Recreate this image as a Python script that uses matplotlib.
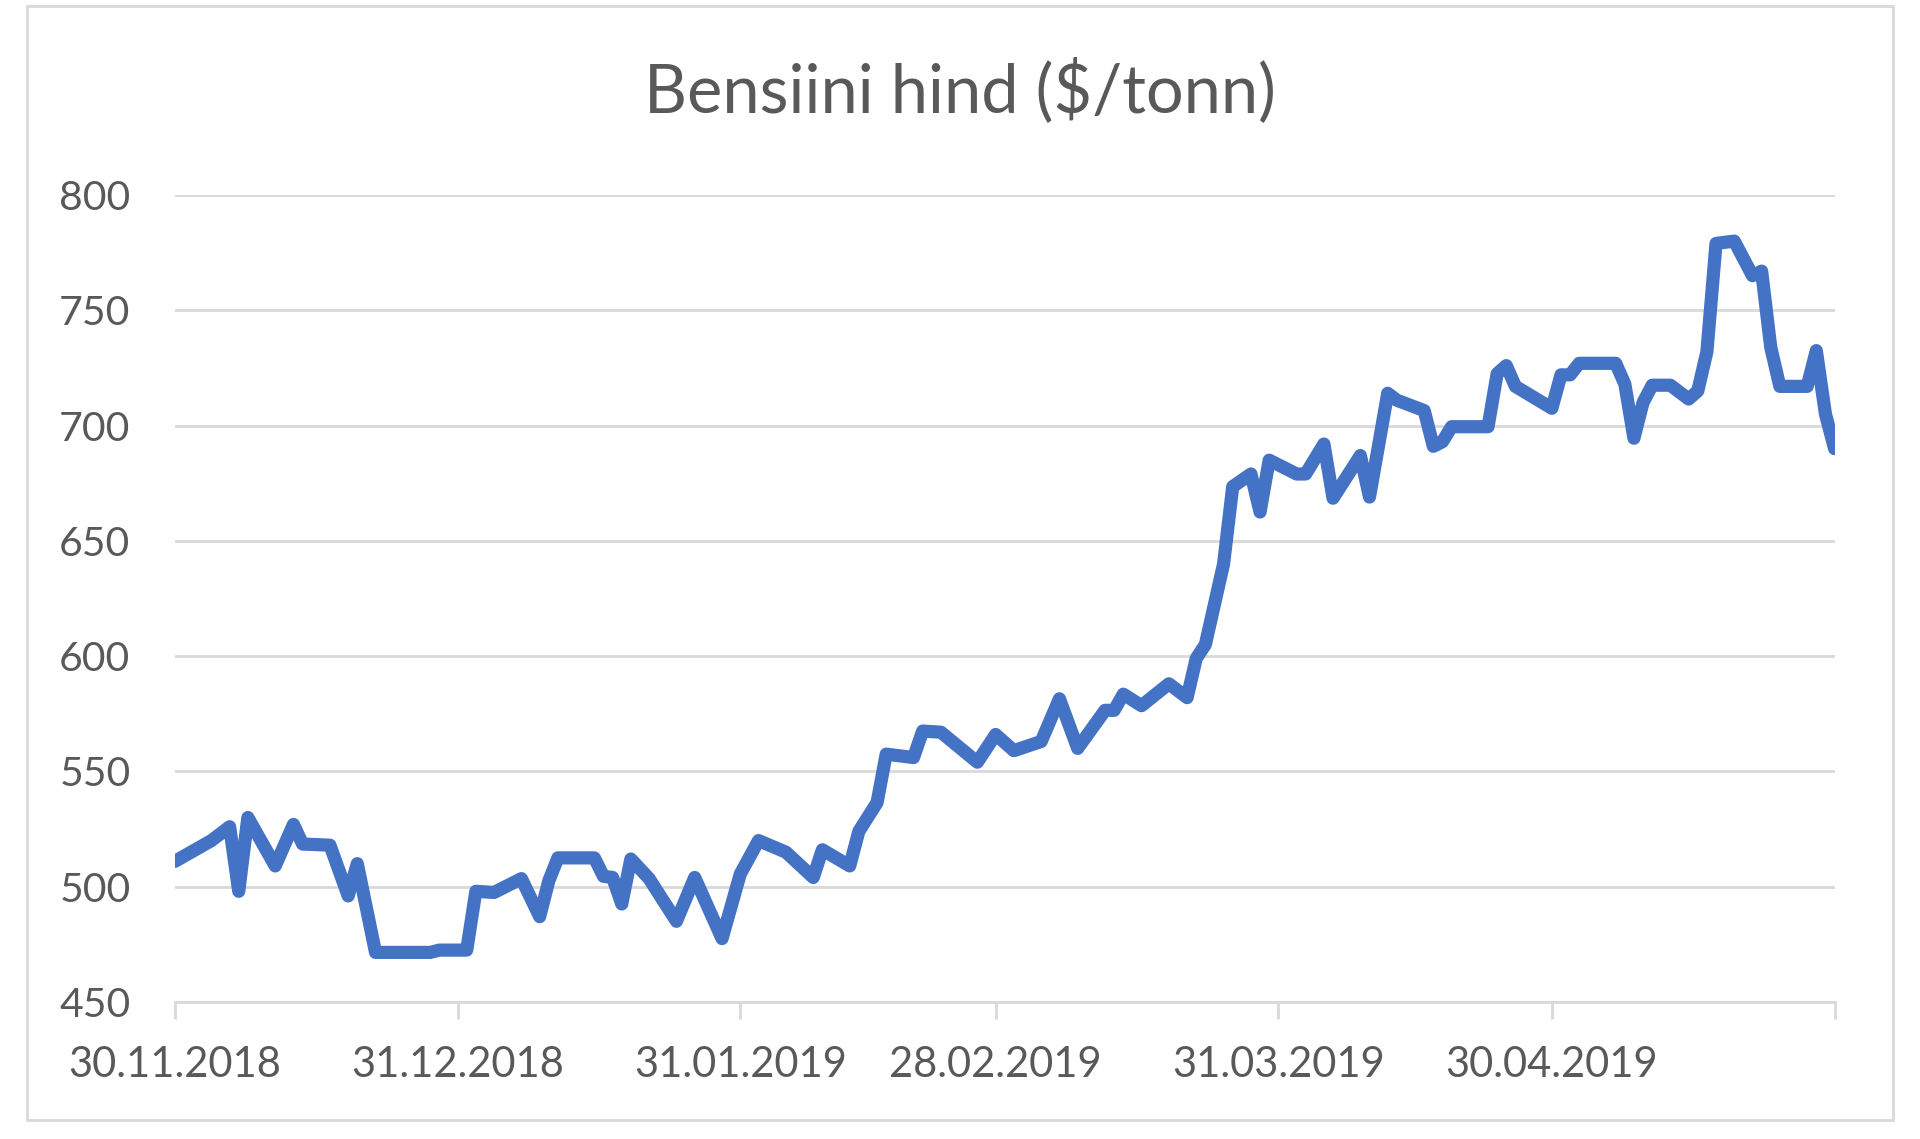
import matplotlib.pyplot as plt
from matplotlib.patches import Rectangle
import pandas as pd

plt.rcParams["font.family"] = ["Lato", "DejaVu Sans"]

# Gasoline price, $/tonne
dates = [
    "2018-11-30", "2018-12-04", "2018-12-06", "2018-12-07", "2018-12-08",
    "2018-12-11", "2018-12-13", "2018-12-14", "2018-12-17", "2018-12-19",
    "2018-12-20", "2018-12-22", "2018-12-28", "2018-12-29", "2019-01-01",
    "2019-01-02", "2019-01-04", "2019-01-07", "2019-01-09", "2019-01-10",
    "2019-01-11", "2019-01-15", "2019-01-16", "2019-01-17", "2019-01-18",
    "2019-01-19", "2019-01-21", "2019-01-24", "2019-01-26", "2019-01-29",
    "2019-01-31", "2019-02-02", "2019-02-05", "2019-02-08", "2019-02-09",
    "2019-02-12", "2019-02-13", "2019-02-15", "2019-02-16", "2019-02-19",
    "2019-02-20", "2019-02-22", "2019-02-26", "2019-02-28", "2019-03-02",
    "2019-03-05", "2019-03-07", "2019-03-09", "2019-03-12", "2019-03-13",
    "2019-03-14", "2019-03-16", "2019-03-19", "2019-03-21", "2019-03-22",
    "2019-03-23", "2019-03-25", "2019-03-26", "2019-03-28", "2019-03-29",
    "2019-03-30", "2019-04-02", "2019-04-03", "2019-04-05", "2019-04-06",
    "2019-04-09", "2019-04-10", "2019-04-12", "2019-04-13", "2019-04-16",
    "2019-04-17", "2019-04-18", "2019-04-19", "2019-04-23", "2019-04-24",
    "2019-04-25", "2019-04-26", "2019-04-30", "2019-05-01", "2019-05-02",
    "2019-05-03", "2019-05-07", "2019-05-08", "2019-05-09", "2019-05-10",
    "2019-05-11", "2019-05-13", "2019-05-15", "2019-05-16", "2019-05-17",
    "2019-05-18", "2019-05-20", "2019-05-22", "2019-05-23", "2019-05-24",
    "2019-05-25", "2019-05-28", "2019-05-29", "2019-05-30", "2019-05-31",
]
prices = [
    511, 520, 526, 498, 530,
    509, 527, 518.5, 518, 496,
    510, 471.5, 471.5, 472.5, 472.5,
    498, 497.5, 503.5, 487, 502.5,
    512.5, 512.5, 504.5, 504, 492.5,
    512, 503.5, 485, 504, 477.5,
    505.5, 520, 515, 504, 516,
    509, 524, 536.5, 557.5, 556,
    567.5, 567, 554, 566, 559,
    563, 581.5, 560, 576.5, 576.5,
    583.5, 578.5, 588, 582, 599,
    605, 640, 673.5, 679, 662.5,
    685, 679, 679, 692, 668.5,
    687, 669, 714, 711, 706.5,
    691, 693, 699.5, 699.5, 722.5,
    726, 717, 707.5, 722, 722,
    727, 727, 718, 694.5, 710,
    717.5, 717.5, 711.5, 715, 732,
    779, 780, 765, 767, 734,
    717, 717, 732.5, 705, 690,
]

tick_dates = ["2018-11-30", "2018-12-31", "2019-01-31", "2019-02-28",
              "2019-03-31", "2019-04-30", "2019-05-31"]
tick_labels = ["30.11.2018", "31.12.2018", "31.01.2019", "28.02.2019",
               "31.03.2019", "30.04.2019", ""]
y_ticks = [450, 500, 550, 600, 650, 700, 750, 800]

x = pd.to_datetime(dates)
xt = pd.to_datetime(tick_dates)

fig = plt.figure(figsize=(19.2, 11.39), dpi=100)
ax = fig.add_axes([0.0911, 0.1203, 0.8644, 0.7085])

ax.plot(x, prices, color="#4472C4", linewidth=9.5,
        solid_capstyle="round", solid_joinstyle="round", zorder=3)

ax.set_xlim(xt[0], xt[-1])
ax.set_ylim(450, 800)
ax.set_yticks(y_ticks)
ax.set_xticks(xt)
ax.set_xticklabels(tick_labels)

ax.grid(axis="y", color="#d9d9d9", linewidth=2)
ax.set_axisbelow(True)
for side in ["top", "right", "left"]:
    ax.spines[side].set_visible(False)
ax.spines["bottom"].set_color("#d9d9d9")
ax.spines["bottom"].set_linewidth(2)

ax.tick_params(axis="y", length=0, pad=32, labelsize=29.5, labelcolor="#595959")
ax.tick_params(axis="x", length=12, width=2, color="#d9d9d9", pad=20,
               labelsize=30, labelcolor="#595959")

fig.text(0.5, 1 - 112 / 1139, "Bensiini hind ($/tonn)", ha="center",
         va="baseline", fontsize=48, color="#595959")

# chart border
fig.patches.append(Rectangle((27 / 1920, 1 - 1120 / 1139), 1866 / 1920, 1114 / 1139,
                             transform=fig.transFigure, fill=False,
                             edgecolor="#d9d9d9", linewidth=2))

fig.savefig("out.png", dpi=100, facecolor="white")
